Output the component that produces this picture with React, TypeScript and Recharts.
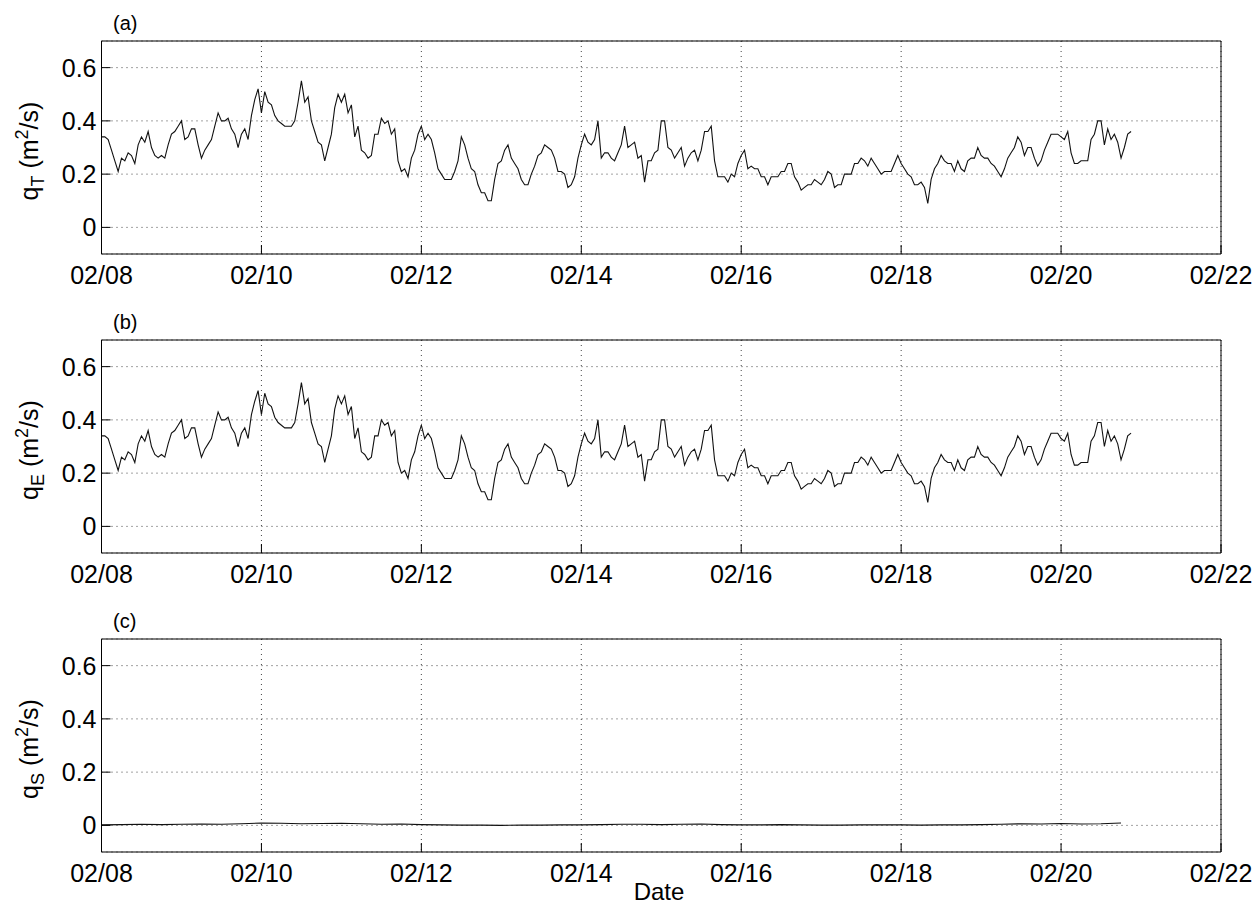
import React from 'react';
import { LineChart, Line, XAxis, YAxis, CartesianGrid } from 'recharts';

// hours since 02/08 00:00
const xTickHours = [0, 48, 96, 144, 192, 240, 288, 336];
const xTickLabels = ['02/08', '02/10', '02/12', '02/14', '02/16', '02/18', '02/20', '02/22'];
const yTicks = [0, 0.2, 0.4, 0.6];

// hourly samples, starting 02/08 00:00
const SAMPLE_STEP_H = 1;

const qT = [
  0.34, 0.34, 0.33, 0.29, 0.25, 0.21, 0.26, 0.25, 0.28, 0.27,
  0.24, 0.31, 0.34, 0.32, 0.36, 0.30, 0.27, 0.26, 0.27, 0.26,
  0.31, 0.35, 0.36, 0.38, 0.40, 0.33, 0.34, 0.37, 0.37, 0.31,
  0.26, 0.29, 0.31, 0.33, 0.38, 0.43, 0.40, 0.40, 0.41, 0.37,
  0.35, 0.30, 0.35, 0.37, 0.33, 0.42, 0.48, 0.52, 0.43, 0.51,
  0.47, 0.46, 0.42, 0.40, 0.39, 0.38, 0.38, 0.38, 0.40, 0.47,
  0.55, 0.47, 0.49, 0.40, 0.36, 0.32, 0.31, 0.25, 0.30, 0.35,
  0.45, 0.50, 0.47, 0.50, 0.43, 0.46, 0.34, 0.38, 0.29, 0.28,
  0.26, 0.27, 0.35, 0.35, 0.41, 0.39, 0.40, 0.35, 0.37, 0.25,
  0.21, 0.22, 0.19, 0.26, 0.29, 0.35, 0.38, 0.33, 0.35, 0.33,
  0.28, 0.22, 0.20, 0.18, 0.18, 0.18, 0.21, 0.25, 0.34, 0.31,
  0.26, 0.22, 0.21, 0.16, 0.13, 0.13, 0.10, 0.10, 0.18, 0.24,
  0.25, 0.29, 0.31, 0.26, 0.24, 0.22, 0.18, 0.16, 0.16, 0.20,
  0.23, 0.27, 0.28, 0.31, 0.30, 0.29, 0.26, 0.21, 0.21, 0.20,
  0.15, 0.16, 0.19, 0.26, 0.31, 0.35, 0.32, 0.31, 0.33, 0.40,
  0.26, 0.28, 0.28, 0.26, 0.25, 0.28, 0.31, 0.38, 0.30, 0.31,
  0.32, 0.26, 0.27, 0.17, 0.25, 0.25, 0.28, 0.29, 0.40, 0.40,
  0.30, 0.29, 0.26, 0.28, 0.30, 0.23, 0.26, 0.28, 0.29, 0.25,
  0.29, 0.36, 0.36, 0.38, 0.25, 0.19, 0.19, 0.19, 0.17, 0.20,
  0.19, 0.24, 0.27, 0.29, 0.22, 0.23, 0.22, 0.22, 0.19, 0.19,
  0.16, 0.19, 0.19, 0.19, 0.21, 0.21, 0.24, 0.24, 0.19, 0.17,
  0.14, 0.15, 0.16, 0.16, 0.18, 0.17, 0.16, 0.18, 0.21, 0.20,
  0.15, 0.16, 0.16, 0.20, 0.20, 0.20, 0.24, 0.24, 0.26, 0.25,
  0.23, 0.26, 0.24, 0.22, 0.20, 0.21, 0.21, 0.21, 0.24, 0.27,
  0.24, 0.22, 0.20, 0.19, 0.16, 0.16, 0.17, 0.15, 0.09, 0.18,
  0.22, 0.24, 0.27, 0.25, 0.24, 0.24, 0.21, 0.25, 0.22, 0.21,
  0.25, 0.26, 0.26, 0.30, 0.27, 0.26, 0.26, 0.24, 0.23, 0.21,
  0.19, 0.22, 0.26, 0.28, 0.30, 0.34, 0.32, 0.27, 0.30, 0.30,
  0.26, 0.23, 0.25, 0.29, 0.32, 0.35, 0.35, 0.35, 0.34, 0.33,
  0.36, 0.28, 0.24, 0.24, 0.25, 0.25, 0.25, 0.33, 0.35, 0.40,
  0.40, 0.31, 0.37, 0.33, 0.35, 0.32, 0.26, 0.30, 0.35, 0.36,
];

const qE = [
  0.34, 0.34, 0.33, 0.29, 0.25, 0.21, 0.26, 0.25, 0.28, 0.27,
  0.24, 0.31, 0.34, 0.32, 0.36, 0.30, 0.27, 0.26, 0.27, 0.26,
  0.31, 0.35, 0.36, 0.38, 0.40, 0.33, 0.34, 0.37, 0.37, 0.31,
  0.26, 0.29, 0.31, 0.33, 0.38, 0.43, 0.40, 0.40, 0.41, 0.37,
  0.35, 0.30, 0.35, 0.37, 0.33, 0.42, 0.47, 0.51, 0.42, 0.50,
  0.46, 0.45, 0.41, 0.39, 0.38, 0.37, 0.37, 0.37, 0.39, 0.46,
  0.54, 0.46, 0.48, 0.39, 0.35, 0.31, 0.30, 0.24, 0.29, 0.34,
  0.44, 0.49, 0.46, 0.49, 0.42, 0.45, 0.33, 0.37, 0.28, 0.27,
  0.25, 0.26, 0.34, 0.34, 0.40, 0.38, 0.39, 0.34, 0.36, 0.24,
  0.20, 0.21, 0.18, 0.25, 0.28, 0.34, 0.38, 0.33, 0.35, 0.33,
  0.28, 0.22, 0.20, 0.18, 0.18, 0.18, 0.21, 0.25, 0.34, 0.31,
  0.26, 0.22, 0.21, 0.16, 0.13, 0.13, 0.10, 0.10, 0.18, 0.24,
  0.25, 0.29, 0.31, 0.26, 0.24, 0.22, 0.18, 0.16, 0.16, 0.20,
  0.23, 0.27, 0.28, 0.31, 0.30, 0.29, 0.26, 0.21, 0.21, 0.20,
  0.15, 0.16, 0.19, 0.26, 0.31, 0.35, 0.32, 0.31, 0.33, 0.40,
  0.26, 0.28, 0.28, 0.26, 0.25, 0.28, 0.31, 0.38, 0.30, 0.31,
  0.32, 0.26, 0.27, 0.17, 0.25, 0.25, 0.28, 0.29, 0.40, 0.40,
  0.30, 0.29, 0.26, 0.28, 0.30, 0.23, 0.26, 0.28, 0.29, 0.25,
  0.29, 0.36, 0.36, 0.38, 0.25, 0.19, 0.19, 0.19, 0.17, 0.20,
  0.19, 0.24, 0.27, 0.29, 0.22, 0.23, 0.22, 0.22, 0.19, 0.19,
  0.16, 0.19, 0.19, 0.19, 0.21, 0.21, 0.24, 0.24, 0.19, 0.17,
  0.14, 0.15, 0.16, 0.16, 0.18, 0.17, 0.16, 0.18, 0.21, 0.20,
  0.15, 0.16, 0.16, 0.20, 0.20, 0.20, 0.24, 0.24, 0.26, 0.25,
  0.23, 0.26, 0.24, 0.22, 0.20, 0.21, 0.21, 0.21, 0.24, 0.27,
  0.24, 0.22, 0.20, 0.19, 0.16, 0.16, 0.17, 0.15, 0.09, 0.18,
  0.22, 0.24, 0.27, 0.25, 0.24, 0.24, 0.21, 0.25, 0.22, 0.21,
  0.25, 0.26, 0.26, 0.30, 0.27, 0.26, 0.26, 0.24, 0.23, 0.21,
  0.19, 0.22, 0.26, 0.28, 0.30, 0.34, 0.32, 0.27, 0.30, 0.30,
  0.26, 0.23, 0.25, 0.29, 0.32, 0.35, 0.35, 0.35, 0.33, 0.32,
  0.35, 0.27, 0.23, 0.23, 0.24, 0.24, 0.24, 0.32, 0.34, 0.39,
  0.39, 0.30, 0.36, 0.32, 0.34, 0.31, 0.25, 0.29, 0.34, 0.35,
];

// 6-hourly samples of q_S
const QS_STEP_H = 6;
const qS = [
  0.002, 0.003, 0.004, 0.003, 0.004, 0.005, 0.004, 0.006,
  0.009, 0.008, 0.006, 0.007, 0.008, 0.006, 0.004, 0.005,
  0.003, 0.002, 0.001, 0.001, 0.000, 0.001, 0.001, 0.002,
  0.002, 0.003, 0.004, 0.004, 0.003, 0.004, 0.005, 0.003,
  0.002, 0.002, 0.003, 0.002, 0.001, 0.001, 0.002, 0.002,
  0.002, 0.001, 0.002, 0.002, 0.003, 0.004, 0.006, 0.005,
  0.007, 0.005, 0.006, 0.009,
];

const FONT = '"Liberation Sans", Arial, Helvetica, sans-serif';
const PLOT_TOP = 41;
const panelTops = [41, 340, 639];

const series = [
  { letter: '(a)', sub: 'T', data: qT.map((v, i) => ({ t: i * SAMPLE_STEP_H, v })) },
  { letter: '(b)', sub: 'E', data: qE.map((v, i) => ({ t: i * SAMPLE_STEP_H, v })) },
  { letter: '(c)', sub: 'S', data: qS.map((v, i) => ({ t: i * QS_STEP_H, v })) },
];

const fmtX = (v: number) => xTickLabels[xTickHours.indexOf(v)] ?? '';
const fmtY = (v: number) => (v === 0 ? '0' : v.toFixed(1));

function Panel({ top, data }: { top: number; data: { t: number; v: number }[] }) {
  return (
    <div style={{ position: 'absolute', left: 0, top: top - PLOT_TOP }}>
      <LineChart
        width={1256}
        height={300}
        data={data}
        margin={{ top: PLOT_TOP, right: 35, bottom: 16, left: 41.5 }}
      >
        <CartesianGrid stroke="#444" strokeDasharray="1 4" />
        <XAxis
          dataKey="t"
          type="number"
          domain={[0, 336]}
          ticks={xTickHours}
          interval={0}
          tickFormatter={fmtX}
          height={30}
          tickSize={-9}
          tickMargin={21}
          stroke="#000"
          tick={{ fill: '#000', fontSize: 25, fontFamily: FONT }}
        />
        <XAxis
          xAxisId="top"
          orientation="top"
          type="number"
          domain={[0, 336]}
          ticks={xTickHours}
          interval={0}
          mirror
          tick={false}
          tickSize={9}
          stroke="#000"
        />
        <YAxis
          type="number"
          domain={[-0.1, 0.7]}
          ticks={yTicks}
          interval={0}
          tickFormatter={fmtY}
          width={60}
          tickSize={-9}
          tickMargin={14}
          stroke="#000"
          tick={{ fill: '#000', fontSize: 25, fontFamily: FONT }}
        />
        <YAxis
          yAxisId="right"
          orientation="right"
          type="number"
          domain={[-0.1, 0.7]}
          ticks={yTicks}
          interval={0}
          mirror
          tick={false}
          tickSize={9}
          stroke="#000"
        />
        <Line
          dataKey="v"
          type="linear"
          stroke="#111"
          strokeWidth={1.1}
          dot={false}
          isAnimationActive={false}
        />
      </LineChart>
    </div>
  );
}

export default function App() {
  return (
    <div style={{ position: 'absolute', left: 0, top: 0, width: 1256, height: 907, background: '#fff' }}>
      {series.map((s, i) => (
        <Panel key={s.letter} top={panelTops[i]} data={s.data} />
      ))}
      <svg
        width={1256}
        height={907}
        style={{ position: 'absolute', left: 0, top: 0, pointerEvents: 'none' }}
        fontFamily={FONT}
      >
        {series.map((s, i) => {
          const top = panelTops[i];
          return (
            <g key={s.letter}>
              <text x={113} y={top - 11} fontSize={20} fill="#000">
                {s.letter}
              </text>
              <text
                transform={`translate(38, ${top + 110}) rotate(-90)`}
                textAnchor="middle"
                fontSize={25}
                fill="#000"
              >
                q<tspan dy={6} fontSize={18}>{s.sub}</tspan>
                <tspan dy={-6}> (m</tspan>
                <tspan dy={-10} fontSize={18}>2</tspan>
                <tspan dy={10}>/s)</tspan>
              </text>
            </g>
          );
        })}
        <text x={659} y={900} textAnchor="middle" fontSize={24} fill="#000">
          Date
        </text>
      </svg>
    </div>
  );
}
